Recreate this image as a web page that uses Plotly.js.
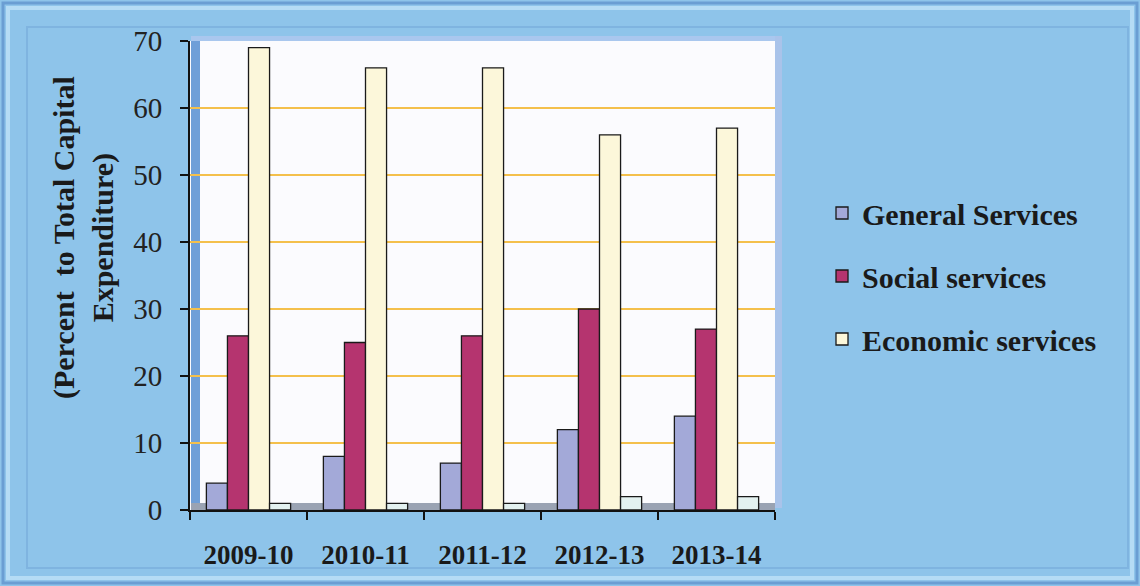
<!DOCTYPE html>
<html>
<head>
<meta charset="utf-8">
<script src="https://cdn.plot.ly/plotly-3.0.1.min.js"></script>
<style>html,body{margin:0;padding:0;background:#8ec4ea;}#chart{width:1140px;height:586px;}</style>
</head>
<body>
<div id="chart"></div>
<script>
const years = ["2009-10", "2010-11", "2011-12", "2012-13", "2013-14"];
const generalServices = [4, 8, 7, 12, 14];
const socialServices = [26, 25, 26, 30, 27];
const economicServices = [69, 66, 66, 56, 57];
const loansAdvances = [1, 1, 1, 2, 2];
const yTicks = [0, 10, 20, 30, 40, 50, 60, 70];
const yTitle = "(Percent  to Total Capital<br>Expenditure)";

const L = 190, R = 775, T = 41, B = 510, W = 1140, H = 586;
const px = v => (v - L) / (R - L);
const py = v => (B - v) / (B - T);

function bar(name, y, color, show, lg) {
  return {
    type: "bar", name: name, x: years, y: y, showlegend: show, legendgroup: lg,
    marker: {color: color, line: {color: "#1a1a1a", width: 1.3}},
    hoverinfo: "x+y+name"
  };
}

const data = [
  bar("General Services", generalServices, "#a3a9d8", true, "g1"),
  bar("Social services", socialServices, "#b5346f", true, "g2"),
  bar("Economic services", economicServices, "#fcf7da", true, "g3"),
  bar("Loans and advances", loansAdvances, "#e3f1f0", false, "g4")
];

const serif = "Liberation Serif, Times New Roman, serif";

const layout = {
  width: W, height: H,
  paper_bgcolor: "#8ec4ea",
  plot_bgcolor: "#fbfbfe",
  margin: {l: L, r: W - R, t: T, b: H - B, pad: 0},
  barmode: "group",
  bargap: 0.28,
  bargroupgap: 0,
  font: {family: serif, color: "#1a1a1a"},
  xaxis: {
    type: "category",
    showline: true, linecolor: "#111", linewidth: 2,
    ticks: "outside", tickson: "boundaries", ticklen: 8, tickwidth: 2, tickcolor: "#111",
    tickfont: {family: serif, size: 27, color: "#1a1a1a", weight: "bold"},
    ticklabelstandoff: 20,
    showgrid: false,
    fixedrange: true
  },
  yaxis: {
    range: [0, 70],
    tickvals: yTicks,
    ticktext: yTicks.map(String),
    showline: true, linecolor: "#111", linewidth: 2,
    ticks: "outside", ticklen: 8, tickwidth: 2, tickcolor: "#111",
    tickfont: {family: serif, size: 29, color: "#222"},
    showgrid: true, gridcolor: "#f4c04c", gridwidth: 2,
    zeroline: false,
    ticklabelstandoff: 12,
    fixedrange: true
  },
  annotations: [
    {text: yTitle, xref: "paper", yref: "paper", x: px(83), y: py(238),
      xanchor: "center", yanchor: "middle", textangle: -90, showarrow: false,
      font: {family: serif, size: 30, color: "#1a1a1a", weight: "bold"}}
  ],
  legend: {
    x: px(822), xanchor: "left",
    y: py(276), yanchor: "middle",
    bgcolor: "rgba(0,0,0,0)",
    font: {family: serif, size: 30, color: "#1a1a1a", weight: "bold"},
    traceorder: "grouped",
    tracegroupgap: 21,
    itemwidth: 30
  },
  shapes: [
    {type: "rect", xref: "paper", yref: "paper", x0: px(3), x1: px(1137), y0: py(583), y1: py(3),
      line: {color: "#6a9ed3", width: 3}, layer: "below"},
    {type: "rect", xref: "paper", yref: "paper", x0: px(8), x1: px(1132), y0: py(578), y1: py(8),
      line: {color: "#b5dcf5", width: 4}, layer: "below"},
    {type: "rect", xref: "paper", yref: "paper", x0: px(27), x1: px(1128), y0: py(568), y1: py(27),
      line: {color: "#7fb4e0", width: 2}, layer: "below"},
    {type: "rect", xref: "paper", yref: "paper", x0: px(191), x1: px(200), y0: py(508), y1: py(36),
      fillcolor: "#6f9fd8", line: {width: 0}, layer: "below"},
    {type: "rect", xref: "paper", yref: "paper", x0: px(191), x1: px(780), y0: py(41), y1: py(36),
      fillcolor: "#a9c7ee", line: {width: 0}, layer: "below"},
    {type: "rect", xref: "paper", yref: "paper", x0: px(775), x1: px(782), y0: py(508), y1: py(36),
      fillcolor: "#a9c3ea", line: {width: 0}, layer: "below"},
    {type: "rect", xref: "paper", yref: "paper", x0: px(191), x1: px(775), y0: py(510), y1: py(503),
      fillcolor: "#9aa3b3", line: {width: 0}, layer: "below"}
  ]
};

Plotly.newPlot("chart", data, layout, {displayModeBar: false, staticPlot: true});
</script>
</body>
</html>
